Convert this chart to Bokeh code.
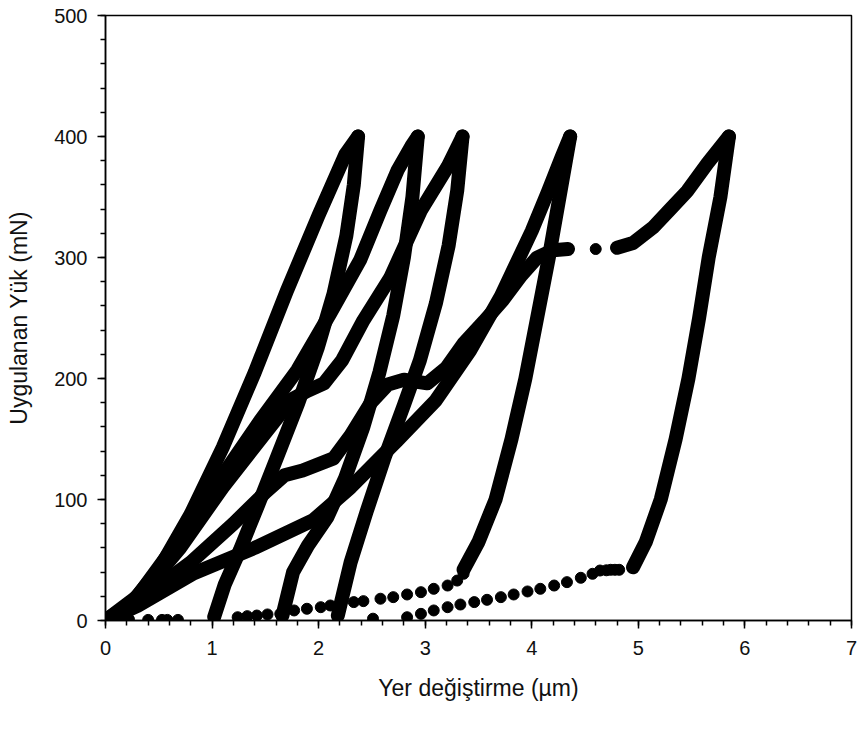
from bokeh.plotting import figure
from bokeh.models import SingleIntervalTicker, Range1d
from bokeh.embed import file_html
from bokeh.resources import INLINE

# ---- data (displacement in µm, load in mN) ----
a_load_x = [0, 0.2, 0.5, 0.8, 1.1, 1.4, 1.7, 2.0, 2.25, 2.37]
a_load_y = [0, 10, 42, 88, 143, 205, 272, 335, 385, 400]
a_unload_x = [2.37, 2.33, 2.26, 2.14, 1.99, 1.81, 1.61, 1.43, 1.26, 1.12, 1.02]
a_unload_y = [400, 360, 318, 270, 225, 180, 135, 95, 58, 30, 3]

b_load_x = [0, 0.3, 0.7, 1.1, 1.45, 1.8, 2.11, 2.39, 2.58, 2.74, 2.87, 2.93]
b_load_y = [0, 20, 68, 120, 165, 207, 254, 298, 339, 372, 392, 400]
b_unload_x = [2.93, 2.88, 2.8, 2.7, 2.57, 2.42, 2.25, 2.08, 1.9, 1.76, 1.66]
b_unload_y = [400, 350, 300, 252, 205, 160, 118, 85, 62, 40, 4]

c_load_x = [0, 0.3, 0.7, 1.1, 1.5, 1.75, 1.9, 2.05, 2.22, 2.42, 2.67, 2.96, 3.21, 3.35]
c_load_y = [0, 18, 60, 110, 155, 183, 190, 196, 215, 248, 283, 339, 375, 400]
c_unload_x = [3.35, 3.3, 3.22, 3.1, 2.95, 2.8, 2.62, 2.45, 2.3, 2.18]
c_unload_y = [400, 355, 310, 262, 215, 178, 135, 90, 48, 4]

d_load_x = [0, 0.3, 0.83, 1.4, 1.95, 2.3, 2.74, 3.1, 3.42, 3.71, 4.0, 4.15, 4.28, 4.36]
d_load_y = [0, 12, 39, 60, 83, 110, 149, 182, 223, 268, 322, 354, 383, 400]
d_unload_x = [4.36, 4.26, 4.16, 4.05, 3.94, 3.81, 3.66, 3.5, 3.36]
d_unload_y = [400, 350, 300, 250, 200, 150, 100, 65, 42]
d_tail_x = [1.24, 1.33, 1.42, 1.52, 1.64, 1.77, 1.89, 2.02, 2.11, 2.21, 2.33, 2.42,
            2.58, 2.70, 2.83, 2.96, 3.08, 3.21, 3.30, 3.36]
d_tail_y = [2.7, 3.6, 4.1, 5.0, 5.5, 8.3, 9.7, 11.0, 12.4, 13.8, 15.2, 16.0,
            18.0, 19.3, 21.5, 23.4, 26.2, 28.9, 33.0, 38.6]

e_load_x = [0, 0.4, 0.8, 1.2, 1.5, 1.68, 1.85, 2.14, 2.3, 2.49, 2.65, 2.8, 3.02,
            3.2, 3.36, 3.55, 3.73, 3.9, 4.05, 4.2, 4.34]
e_load_y = [0, 22, 48, 80, 106, 120, 124, 134, 153, 180, 195, 199, 196,
            209, 229, 247, 265, 285, 300, 306, 307]
e_popin_x = [4.6]
e_popin_y = [307]
e_reload_x = [4.8, 4.95, 5.14, 5.3, 5.46, 5.65, 5.85]
e_reload_y = [308, 312, 325, 340, 355, 378, 400]
e_unload_x = [5.85, 5.77, 5.66, 5.57, 5.47, 5.35, 5.21, 5.07, 4.95]
e_unload_y = [400, 350, 300, 250, 200, 150, 100, 65, 44]
e_tail_x = [2.83, 2.96, 3.08, 3.21, 3.33, 3.46, 3.58, 3.71, 3.83, 3.96, 4.08, 4.21,
            4.33, 4.46, 4.57, 4.64, 4.70, 4.74, 4.78, 4.82]
e_tail_y = [2.7, 5.5, 8.3, 11.0, 13.2, 15.2, 17.1, 19.3, 21.5, 24.0, 26.2, 28.9,
            31.7, 35.3, 38.6, 41.3, 41.5, 41.9, 41.9, 41.9]

base_x = [0.02, 0.07, 0.12, 0.17, 0.22, 0.4, 0.53, 0.58, 0.68, 2.51]
base_y = [1, 1, 1, 1, 1, 0.5, 0.5, 0.5, 0.5, 1.5]

FONT = "Liberation Sans"

p = figure(width=859, height=729, output_backend="svg", toolbar_location=None,
           x_range=Range1d(0, 7), y_range=Range1d(0, 500),
           min_border_left=105, min_border_right=8, min_border_top=15,
           min_border_bottom=109)
p.grid.visible = False
p.outline_line_color = "black"
p.outline_line_width = 1.5
p.background_fill_color = "white"
p.border_fill_color = "white"

lines = [
    (a_load_x, a_load_y), (a_unload_x, a_unload_y),
    (b_load_x, b_load_y), (b_unload_x, b_unload_y),
    (c_load_x, c_load_y), (c_unload_x, c_unload_y),
    (d_load_x, d_load_y), (d_unload_x, d_unload_y),
    (e_load_x, e_load_y), (e_reload_x, e_reload_y), (e_unload_x, e_unload_y),
]
for xs, ys in lines:
    p.line(xs, ys, line_color="black", line_width=14,
           line_join="round", line_cap="round")

for xs, ys in [(d_tail_x, d_tail_y), (e_tail_x, e_tail_y),
               (base_x, base_y), (e_popin_x, e_popin_y)]:
    p.scatter(xs, ys, size=11, fill_color="black", line_color="black")

p.xaxis.ticker = SingleIntervalTicker(interval=1, num_minor_ticks=5)
p.yaxis.ticker = SingleIntervalTicker(interval=100, num_minor_ticks=5)
for ax in (p.xaxis[0], p.yaxis[0]):
    ax.axis_line_color = "black"
    ax.axis_line_width = 1.5
    ax.major_tick_in = 0
    ax.major_tick_out = 8
    ax.minor_tick_in = 0
    ax.minor_tick_out = 5
    ax.major_tick_line_color = "black"
    ax.minor_tick_line_color = "black"
    ax.major_tick_line_width = 1.5
    ax.minor_tick_line_width = 1.5
    ax.major_label_text_font = FONT
    ax.major_label_text_font_size = "20px"
    ax.major_label_text_color = "#111111"
    ax.axis_label_text_font = FONT
    ax.axis_label_text_font_size = "23px"
    ax.axis_label_text_font_style = "normal"
    ax.axis_label_text_color = "#111111"

p.xaxis.axis_label = "Yer değiştirme (µm)"
p.yaxis.axis_label = "Uygulanan Yük (mN)"
p.xaxis.major_label_standoff = 12
p.xaxis.axis_label_standoff = 17
p.yaxis.major_label_standoff = 10
p.yaxis.axis_label_standoff = 19

open("out.html", "w").write(file_html(p, INLINE))
